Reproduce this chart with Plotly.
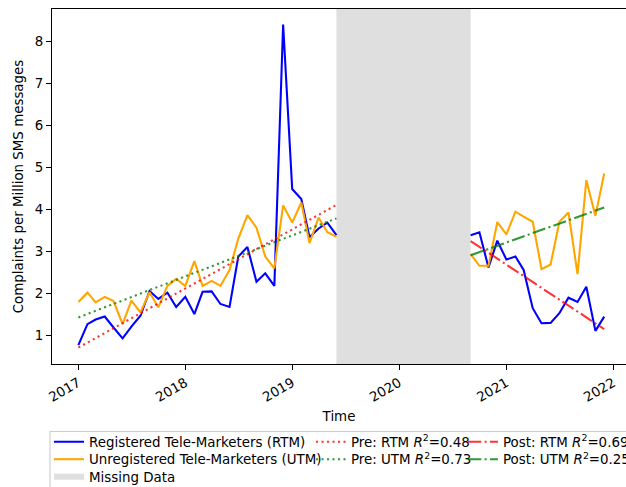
import plotly.graph_objects as go
import pandas as pd

# ---------------- data ----------------
pre_months = pd.date_range("2017-01-01", periods=30, freq="MS")
post_months = pd.date_range("2020-09-01", periods=16, freq="MS")

rtm_pre = [0.76, 1.26, 1.37, 1.44, 1.18, 0.92, 1.20, 1.46, 2.05, 1.86,
           2.01, 1.67, 1.91, 1.50, 2.03, 2.04, 1.74, 1.67, 2.87, 3.10,
           2.27, 2.47, 2.17, 8.40, 4.48, 4.24, 3.33, 3.54, 3.68, 3.38]
utm_pre = [1.79, 2.01, 1.78, 1.91, 1.81, 1.26, 1.82, 1.54, 2.02, 1.66,
           2.17, 2.34, 2.17, 2.76, 2.17, 2.29, 2.17, 2.55, 3.30, 3.86,
           3.56, 2.87, 2.59, 4.09, 3.68, 4.16, 3.19, 3.80, 3.45, 3.34]
rtm_post = [3.38, 3.45, 2.61, 3.25, 2.80, 2.87, 2.55, 1.64, 1.28, 1.29,
            1.52, 1.89, 1.79, 2.15, 1.10, 1.44]
utm_post = [2.93, 2.65, 2.65, 3.69, 3.40, 3.94, 3.82, 3.70, 2.57, 2.68,
            3.70, 3.92, 2.45, 4.69, 3.84, 4.85]

# trend line end values (start, end)
trend_pre_rtm = [0.70, 4.10]
trend_pre_utm = [1.42, 3.78]
trend_post_rtm = [3.24, 1.14]
trend_post_utm = [2.90, 4.04]

labels = {
    "rtm": "Registered Tele-Marketers (RTM)",
    "utm": "Unregistered Tele-Marketers (UTM)",
    "missing": "Missing Data",
    "pre_rtm": "Pre: RTM <i>R</i><sup>2</sup>=0.48",
    "pre_utm": "Pre: UTM <i>R</i><sup>2</sup>=0.73",
    "post_rtm": "Post: RTM <i>R</i><sup>2</sup>=0.69",
    "post_utm": "Post: UTM <i>R</i><sup>2</sup>=0.25",
}

missing_start = "2019-06-01"
missing_end = "2020-09-01"
x_range = ["2016-10-03", "2022-02-13 10:00"]
y_range = [0.31, 8.77]
y_ticks = [1, 2, 3, 4, 5, 6, 7, 8]

# ---------------- figure ----------------
FONT = "DejaVu Sans"
FS = 13.4
W, H = 626, 487
L, R, T, B = 52, 0, 9, 487 - 364
PW, PH = W - L - R, H - T - B

def px_x(p):                 # page px -> paper x
    return (p - L) / PW

def px_y(p):                 # page px -> paper y
    return (H - B - p) / PH

dot = "2.1px,3.4px"
dashdot = "13.3px,3.3px,2.1px,3.3px"
lw = 2.08

fig = go.Figure()

pre_ends = [pre_months[0], pre_months[-1]]
post_ends = [post_months[0], post_months[-1]]

fig.add_trace(go.Scatter(x=pre_months, y=rtm_pre, mode="lines", name=labels["rtm"],
                         line=dict(color="#0000ff", width=lw), legendgroup="rtm",
                         legend="legend"))
fig.add_trace(go.Scatter(x=post_months, y=rtm_post, mode="lines", name=labels["rtm"],
                         line=dict(color="#0000ff", width=lw), legendgroup="rtm",
                         showlegend=False))
fig.add_trace(go.Scatter(x=pre_months, y=utm_pre, mode="lines", name=labels["utm"],
                         line=dict(color="#ffa500", width=lw), legendgroup="utm",
                         legend="legend2"))
fig.add_trace(go.Scatter(x=post_months, y=utm_post, mode="lines", name=labels["utm"],
                         line=dict(color="#ffa500", width=lw), legendgroup="utm",
                         showlegend=False))
fig.add_trace(go.Scatter(x=[None], y=[None], mode="none", fill="toself",
                         fillcolor="#dfdfdf", name=labels["missing"], legend="legend3"))

fig.add_trace(go.Scatter(x=pre_ends, y=trend_pre_rtm, mode="lines", name=labels["pre_rtm"],
                         line=dict(color="rgba(255,0,0,0.8)", width=lw, dash=dot),
                         legend="legend4"))
fig.add_trace(go.Scatter(x=pre_ends, y=trend_pre_utm, mode="lines", name=labels["pre_utm"],
                         line=dict(color="rgba(0,128,0,0.8)", width=lw, dash=dot),
                         legend="legend5"))
fig.add_trace(go.Scatter(x=post_ends, y=trend_post_rtm, mode="lines", name=labels["post_rtm"],
                         line=dict(color="rgba(255,0,0,0.8)", width=lw, dash=dashdot),
                         legend="legend6"))
fig.add_trace(go.Scatter(x=post_ends, y=trend_post_utm, mode="lines", name=labels["post_utm"],
                         line=dict(color="rgba(0,128,0,0.8)", width=lw, dash=dashdot),
                         legend="legend7"))

fig.add_shape(type="rect", xref="x", yref="paper", x0=missing_start, x1=missing_end,
              y0=0, y1=1, fillcolor="#dfdfdf", line=dict(width=0), layer="below")

# legend frame
fig.add_shape(type="rect", xref="paper", yref="paper",
              x0=px_x(50), x1=px_x(640), y0=px_y(431.5), y1=px_y(500),
              line=dict(color="#cccccc", width=1.1), fillcolor="rgba(255,255,255,0)")

def leg(x_text, y_row):
    return dict(orientation="v", yanchor="middle", xanchor="left",
                x=px_x(x_text - 40), y=px_y(y_row),
                bgcolor="rgba(0,0,0,0)", borderwidth=0,
                font=dict(family=FONT, size=FS, color="black"),
                itemwidth=30, tracegroupgap=0)

col_x = [89, 351, 503]
row_y = [442, 459.5, 477]

fig.update_layout(
    width=W, height=H,
    margin=dict(l=L, r=R, t=T, b=B, pad=0, autoexpand=False),
    paper_bgcolor="white", plot_bgcolor="white",
    font=dict(family=FONT, size=FS, color="black"),
    legend=leg(col_x[0], row_y[0]),
    legend2=leg(col_x[0], row_y[1]),
    legend3=leg(col_x[0], row_y[2]),
    legend4=leg(col_x[1], row_y[0]),
    legend5=leg(col_x[1], row_y[1]),
    legend6=leg(col_x[2], row_y[0]),
    legend7=leg(col_x[2], row_y[1]),
    xaxis=dict(
        type="date", range=x_range, dtick="M12", tick0="2017-01-01", tickformat="%Y",
        tickangle=-30, ticks="outside", ticklen=4.9, tickwidth=1.1, tickcolor="black",
        showline=True, linecolor="black", linewidth=1.1, mirror=True,
        showgrid=False, zeroline=False, automargin=False,
        tickfont=dict(family=FONT, size=FS, color="black"),
        title=dict(text="Time", font=dict(family=FONT, size=FS, color="black"), standoff=7),
    ),
    yaxis=dict(
        range=y_range, tickvals=y_ticks, ticks="outside", ticklen=4.9, tickwidth=1.1,
        tickcolor="black", showline=True, linecolor="black", linewidth=1.1,
        showgrid=False, zeroline=False, automargin=False,
        tickfont=dict(family=FONT, size=FS, color="black"),
        title=dict(text="Complaints per Million SMS messages",
                   font=dict(family=FONT, size=FS, color="black"), standoff=8),
    ),
    showlegend=True,
)

fig.write_html(
    "out.html",
    config={"displayModeBar": False},
    post_script=("document.documentElement.style.overflow='hidden';"
                 "document.body.style.margin='0';document.body.style.overflow='hidden';"),
)
